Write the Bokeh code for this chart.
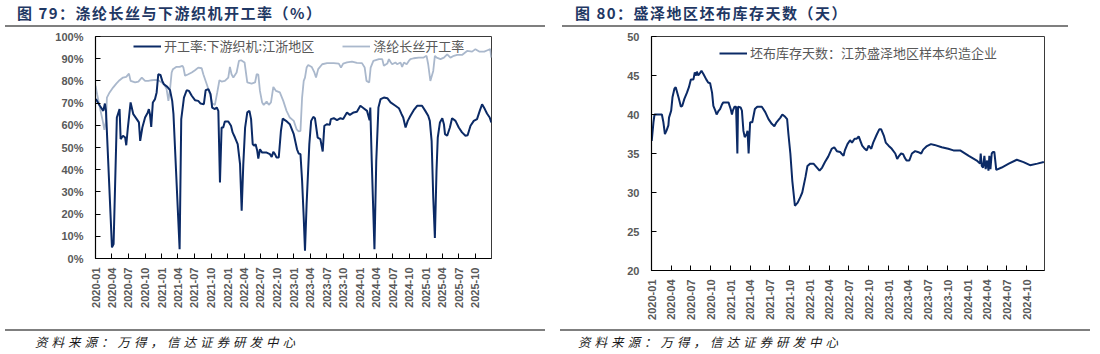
import pandas as pd
from math import pi
from bokeh.plotting import figure
from bokeh.models import (Range1d, MonthsTicker, DatetimeTickFormatter, FixedTicker,
                          PrintfTickFormatter, Legend, LegendItem, Div)
from bokeh.layouts import column, row
from bokeh.embed import file_html
from bokeh.resources import INLINE

title_left = "图 79：涤纶长丝与下游织机开工率（%）"
title_right = "图 80：盛泽地区坯布库存天数（天）"
source_note = "资料来源：万得，信达证券研发中心"
weave_name = "开工率:下游织机:江浙地区"
yarn_name = "涤纶长丝开工率"
inv_name = "坯布库存天数：江苏盛泽地区样本织造企业"

weave_dates = [
    "2020-01-03", "2020-01-25", "2020-02-13", "2020-02-22", "2020-02-28", "2020-04-01", "2020-04-10", "2020-04-28",
    "2020-05-13", "2020-05-19", "2020-06-01", "2020-06-13", "2020-06-19", "2020-06-28", "2020-07-13", "2020-07-28",
    "2020-08-16", "2020-08-28", "2020-09-04", "2020-09-16", "2020-10-01", "2020-10-16", "2020-10-22", "2020-10-28",
    "2020-11-04", "2020-11-13", "2020-11-25", "2020-12-04", "2020-12-13", "2020-12-25",
    "2021-01-04", "2021-01-13", "2021-02-01", "2021-02-16", "2021-02-28", "2021-03-07", "2021-04-10", "2021-04-19",
    "2021-05-04", "2021-05-19", "2021-06-01", "2021-06-16", "2021-07-04", "2021-07-22", "2021-08-04", "2021-08-22",
    "2021-09-01", "2021-09-16", "2021-09-28", "2021-10-07", "2021-10-22", "2021-11-01", "2021-11-10", "2021-11-19",
    "2021-11-28", "2021-12-07", "2021-12-16",
    "2022-01-04", "2022-01-19", "2022-01-28", "2022-02-10", "2022-02-25", "2022-03-10", "2022-03-19", "2022-03-28",
    "2022-04-07", "2022-04-19", "2022-05-01", "2022-05-10", "2022-05-19", "2022-05-26", "2022-06-04", "2022-06-13",
    "2022-06-19", "2022-06-28", "2022-07-10", "2022-08-04", "2022-08-22", "2022-09-01", "2022-09-10", "2022-09-19",
    "2022-09-28", "2022-10-10", "2022-10-22", "2022-11-01", "2022-11-19", "2022-12-10",
    "2023-01-01", "2023-01-19", "2023-01-28", "2023-02-07", "2023-02-16", "2023-02-25", "2023-03-04", "2023-03-13",
    "2023-03-28", "2023-04-07", "2023-04-19", "2023-04-28", "2023-05-13", "2023-05-28", "2023-06-10", "2023-06-19",
    "2023-07-04", "2023-07-19", "2023-07-25", "2023-08-10", "2023-08-28", "2023-09-16", "2023-10-01", "2023-10-22",
    "2023-11-07", "2023-11-28", "2023-12-16",
    "2024-01-04", "2024-01-22", "2024-02-10", "2024-02-24", "2024-02-28", "2024-03-07", "2024-03-22", "2024-04-01",
    "2024-04-13", "2024-04-25", "2024-05-13", "2024-06-01", "2024-06-19", "2024-07-16", "2024-08-04", "2024-08-19",
    "2024-08-28", "2024-09-10", "2024-09-22", "2024-10-07", "2024-10-25", "2024-11-13", "2024-12-10", "2024-12-28",
    "2025-01-13", "2025-01-22", "2025-02-01", "2025-02-10", "2025-02-19", "2025-02-28", "2025-03-07", "2025-03-19",
    "2025-04-01", "2025-04-10", "2025-04-16", "2025-04-28", "2025-05-13", "2025-05-25", "2025-06-13", "2025-07-01",
    "2025-07-19", "2025-08-07", "2025-08-19", "2025-09-04", "2025-09-22", "2025-10-10", "2025-10-25", "2025-11-07",
    "2025-11-22", "2025-12-04", "2025-12-19", "2025-12-28",
]
weave_rate = [
    71.8, 68.8, 66.5, 69.8, 66.5, 5.0, 6.5, 63.5, 67.3, 53.8, 55.3, 54.5, 51.0, 59.0, 70.3, 65.0,
    62.8, 61.3, 53.0, 59.0, 63.5, 65.8, 67.3, 65.0, 59.3, 70.3, 71.8, 74.8, 83.0, 82.7,
    80.0, 78.5, 77.3, 75.8, 71.0, 65.0, 4.2, 62.8, 72.5, 75.8, 75.5, 73.3, 71.3, 71.0, 69.8, 69.5,
    75.8, 76.3, 74.0, 68.0, 67.3, 68.0, 66.5, 34.2, 59.0, 59.0, 61.7,
    61.7, 59.8, 56.8, 54.5, 51.5, 42.5, 21.5, 42.5, 59.0, 65.8, 66.5, 62.8, 51.5, 50.8, 51.5, 48.5,
    45.0, 49.2, 47.7, 47.7, 47.0, 45.8, 48.0, 47.0, 45.5, 45.5, 57.5, 63.0, 62.0, 60.5,
    56.0, 49.2, 47.3, 47.0, 35.0, 18.5, 3.5, 24.5, 51.5, 62.0, 63.8, 63.2, 54.5, 53.8, 48.2, 59.8,
    60.5, 60.2, 62.8, 63.2, 62.3, 63.2, 62.8, 65.8, 64.7, 65.8, 66.1,
    68.8, 67.7, 66.5, 62.3, 68.0, 44.0, 4.2, 44.0, 68.0, 71.8, 72.5, 72.2, 70.3, 68.8, 67.7, 65.0,
    63.5, 59.0, 62.0, 64.3, 66.8, 68.8, 68.8, 66.5,
    64.3, 62.0, 53.0, 27.5, 9.2, 39.5, 54.5, 61.3, 63.2, 60.5, 56.0, 55.3, 59.0, 63.2, 62.0, 59.0,
    56.8, 55.3, 55.5, 59.8, 62.0, 62.8, 66.5, 69.5, 67.3, 65.3, 63.5, 61.3,
]

yarn_dates = [
    "2020-01-01", "2020-01-10", "2020-01-25", "2020-02-10", "2020-02-19", "2020-02-28", "2020-03-04", "2020-03-19",
    "2020-04-07", "2020-04-25", "2020-05-13", "2020-06-01", "2020-06-19", "2020-07-04", "2020-07-13", "2020-08-07",
    "2020-08-25", "2020-09-13", "2020-10-01", "2020-10-19", "2020-11-07", "2020-11-25", "2020-12-13",
    "2021-01-01", "2021-01-16", "2021-01-28", "2021-02-07", "2021-02-16", "2021-02-25", "2021-03-04", "2021-03-22",
    "2021-04-10", "2021-04-25", "2021-05-01", "2021-05-10", "2021-05-28", "2021-06-16", "2021-07-04", "2021-07-22",
    "2021-08-10", "2021-08-19", "2021-09-07", "2021-09-25", "2021-10-07", "2021-10-22", "2021-11-04", "2021-11-16",
    "2021-11-28", "2021-12-16",
    "2022-01-04", "2022-01-13", "2022-01-22", "2022-02-01", "2022-02-19", "2022-03-04", "2022-03-16", "2022-04-04",
    "2022-04-19", "2022-05-13", "2022-06-01", "2022-06-10", "2022-06-19", "2022-06-28", "2022-07-10", "2022-07-19",
    "2022-08-04", "2022-08-16", "2022-08-28", "2022-09-10", "2022-09-25", "2022-10-16", "2022-11-04", "2022-11-22",
    "2022-12-10",
    "2023-01-01", "2023-01-16", "2023-01-28", "2023-02-07", "2023-02-16", "2023-02-25", "2023-03-04", "2023-03-13",
    "2023-03-22", "2023-04-10", "2023-04-25", "2023-05-04", "2023-05-16", "2023-06-07", "2023-07-04", "2023-08-10",
    "2023-09-07", "2023-09-19", "2023-10-01", "2023-10-22", "2023-11-19", "2023-12-16",
    "2024-01-13", "2024-01-28", "2024-02-07", "2024-02-22", "2024-03-01", "2024-03-16", "2024-04-16", "2024-05-04",
    "2024-05-13", "2024-06-01", "2024-06-10", "2024-06-19", "2024-06-28", "2024-07-16", "2024-07-25", "2024-08-13",
    "2024-08-22", "2024-09-01", "2024-09-16", "2024-09-28", "2024-10-07", "2024-10-25", "2024-11-22", "2024-12-19",
    "2025-01-04", "2025-01-13", "2025-01-25", "2025-02-10", "2025-02-19", "2025-03-01", "2025-03-22", "2025-04-10",
    "2025-04-28", "2025-05-16", "2025-06-04", "2025-06-22", "2025-07-19", "2025-08-16", "2025-09-13", "2025-10-01",
    "2025-10-22", "2025-11-19", "2025-12-07", "2025-12-22", "2025-12-28",
]
yarn_rate = [
    77.8, 74.0, 68.0, 62.0, 58.0, 62.0, 72.5, 74.8, 77.0, 78.8, 80.3, 81.5, 81.8, 83.3, 80.0, 79.3,
    79.7, 81.5, 80.0, 80.0, 80.3, 80.5, 80.3,
    79.3, 78.2, 76.3, 71.0, 76.3, 83.8, 85.3, 86.3, 86.3, 86.8, 86.0, 82.3, 83.0, 83.8, 84.8, 86.0,
    85.7, 83.0, 78.5, 74.0, 69.8, 69.2, 74.8, 80.3, 79.7, 80.0,
    81.5, 86.3, 83.0, 81.5, 83.8, 89.0, 89.3, 88.3, 79.3, 78.8, 79.3, 83.0, 82.8, 75.5, 70.3, 69.2,
    70.7, 69.2, 70.3, 77.3, 75.5, 74.8, 71.0, 66.5, 63.5,
    62.0, 58.3, 57.2, 57.5, 72.5, 80.0, 81.5, 86.0, 87.2, 86.3, 83.8, 81.5, 85.3, 87.5, 88.0, 88.0,
    87.8, 86.0, 87.8, 88.3, 88.7, 88.1,
    88.0, 86.0, 80.0, 79.3, 86.0, 89.0, 89.8, 89.8, 86.8, 87.8, 89.8, 88.5, 87.5, 88.3, 87.5, 88.3,
    86.3, 88.3, 87.5, 89.0, 89.8, 90.2, 90.5, 90.5,
    91.3, 87.5, 80.0, 84.5, 91.3, 90.5, 89.8, 90.5, 92.0, 90.5, 91.3, 91.7, 91.7, 93.5, 93.2, 94.3,
    93.2, 93.2, 93.8, 94.3, 90.5,
]

inv_dates = [
    "2020-01-02", "2020-01-10", "2020-01-15", "2020-02-18", "2020-02-25", "2020-03-03", "2020-03-10", "2020-03-19",
    "2020-03-22", "2020-04-01", "2020-04-07", "2020-04-16", "2020-04-22", "2020-05-01", "2020-05-07", "2020-05-16",
    "2020-05-22", "2020-06-01", "2020-06-13", "2020-06-22", "2020-07-01", "2020-07-13", "2020-07-19", "2020-07-25",
    "2020-07-29", "2020-08-04", "2020-08-12", "2020-08-19", "2020-08-28", "2020-09-10", "2020-09-19", "2020-09-28",
    "2020-10-07", "2020-10-13", "2020-10-22", "2020-10-28", "2020-11-07", "2020-11-13", "2020-11-22", "2020-11-28",
    "2020-12-22",
    "2021-01-01", "2021-01-07", "2021-01-11", "2021-01-19", "2021-01-26", "2021-02-01", "2021-02-04", "2021-02-16",
    "2021-02-22", "2021-03-01", "2021-03-07", "2021-03-16", "2021-03-20", "2021-03-25", "2021-04-01", "2021-04-11",
    "2021-04-23", "2021-05-04", "2021-05-25", "2021-06-10", "2021-06-25", "2021-07-10", "2021-07-22", "2021-08-01",
    "2021-08-19", "2021-08-28", "2021-09-10", "2021-09-19", "2021-09-25", "2021-10-04", "2021-10-13", "2021-10-25",
    "2021-11-07", "2021-11-19", "2021-11-28", "2021-12-13", "2021-12-22",
    "2022-01-04", "2022-01-19", "2022-02-04", "2022-02-16", "2022-02-28", "2022-03-13", "2022-03-28", "2022-04-13",
    "2022-04-25", "2022-05-07", "2022-05-22", "2022-05-28", "2022-06-07", "2022-06-13", "2022-06-25", "2022-07-07",
    "2022-07-16", "2022-07-28", "2022-08-07", "2022-08-16", "2022-09-01", "2022-09-13", "2022-09-22", "2022-10-01",
    "2022-10-13", "2022-10-22", "2022-11-07", "2022-11-19", "2022-11-28", "2022-12-10", "2022-12-19",
    "2023-01-01", "2023-01-16", "2023-02-01", "2023-02-10", "2023-02-19", "2023-02-28", "2023-03-10", "2023-03-16",
    "2023-03-25", "2023-04-07", "2023-04-19", "2023-05-04", "2023-05-16", "2023-06-01", "2023-06-10", "2023-06-25",
    "2023-07-16", "2023-08-01", "2023-09-04", "2023-10-04", "2023-10-28", "2023-11-28",
    "2024-01-07", "2024-02-13", "2024-02-28", "2024-03-02", "2024-03-07", "2024-03-13", "2024-03-19", "2024-03-25",
    "2024-04-01", "2024-04-07", "2024-04-11", "2024-04-16", "2024-04-22", "2024-04-28", "2024-05-04", "2024-05-13",
    "2024-06-07", "2024-07-10", "2024-08-16", "2024-09-16", "2024-10-16", "2024-11-19", "2024-12-19",
]
inv_days = [
    36.6, 39.0, 40.0, 40.0, 39.0, 37.5, 37.9, 38.6, 39.6, 40.5, 42.2, 43.3, 43.5, 42.6, 42.0, 41.0,
    41.1, 42.0, 42.8, 43.5, 44.5, 44.5, 45.4, 45.0, 45.5, 45.0, 45.3, 45.6, 45.2, 44.5, 44.1, 44.0,
    42.8, 41.1, 40.5, 40.0, 40.5, 40.7, 41.3, 41.55, 41.55,
    40.7, 40.0, 40.5, 41.0, 41.0, 35.0, 41.0, 40.9, 40.5, 37.9, 37.1, 37.5, 37.9, 35.0, 39.0, 39.0,
    40.7, 41.0, 41.0, 40.3, 39.4, 38.8, 38.5, 39.0, 39.6, 40.0, 39.7, 39.4, 37.5, 35.0, 31.5, 28.3,
    28.7, 29.4, 30.0, 32.0, 33.4,
    33.7, 33.7, 33.2, 32.8, 33.2, 33.9, 34.6, 35.6, 35.8, 35.3, 35.2, 35.0, 34.7, 35.4, 36.2, 36.7,
    36.4, 36.9, 36.9, 37.2, 36.0, 35.6, 35.4, 36.0, 35.6, 36.4, 37.4, 38.1, 38.1, 37.3, 36.4,
    36.0, 35.6, 35.0, 34.3, 34.7, 35.0, 34.9, 34.5, 34.1, 34.1, 35.0, 35.3, 35.2, 35.0, 35.5, 35.9,
    36.2, 36.1, 35.8, 35.6, 35.4, 35.4,
    34.7, 34.1, 33.7, 35.0, 33.4, 33.2, 34.7, 33.0, 34.1, 32.8, 34.7, 33.0, 35.0, 35.2, 35.2, 32.9,
    33.2, 33.7, 34.2, 33.9, 33.5, 33.7, 33.9,
]

pct_ticks = [0, 10, 20, 30, 40, 50, 60, 70, 80, 90, 100]
day_ticks = [20, 25, 30, 35, 40, 45, 50]

DARK = "#0b2a66"
LIGHT = "#aab8cc"
TICK_COLOR = "#595959"
AX_FONT = "Liberation Sans"
CJK = "Noto Sans CJK SC"


def make_fig(width, height, x_end, y_lo, y_hi, bl, br, bt, bb):
    p = figure(width=width, height=height, x_axis_type="datetime", output_backend="svg",
               toolbar_location=None, title=None,
               x_range=Range1d(pd.Timestamp("2020-01-01"), pd.Timestamp(x_end)),
               y_range=Range1d(y_lo, y_hi),
               min_border_left=bl, min_border_right=br, min_border_top=bt, min_border_bottom=bb)
    p.xgrid.visible = False
    p.ygrid.visible = False
    p.outline_line_color = "#3a3a3a"
    p.outline_line_width = 1
    p.border_fill_color = "white"
    p.background_fill_color = "white"
    xa = p.xaxis[0]
    xa.ticker = MonthsTicker(months=[0, 3, 6, 9])
    xa.formatter = DatetimeTickFormatter(months="%Y-%m", days="%Y-%m", years="%Y-%m")
    xa.major_label_orientation = pi / 2
    xa.minor_tick_line_color = None
    xa.major_tick_in = 5
    xa.major_tick_out = 0
    xa.major_label_standoff = 9
    ya = p.yaxis[0]
    ya.minor_tick_line_color = None
    ya.major_tick_in = 5
    ya.major_tick_out = 0
    ya.major_label_standoff = 12
    for ax in (xa, ya):
        ax.axis_line_color = "black"
        ax.axis_line_width = 1.2
        ax.major_tick_line_color = "black"
        ax.major_label_text_font = AX_FONT
        ax.major_label_text_font_style = "bold"
        ax.major_label_text_font_size = "11px"
        ax.major_label_text_color = TICK_COLOR
    return p


def legend_for(items, loc):
    return Legend(items=items, orientation="horizontal", location=loc, spacing=28,
                  glyph_width=28, glyph_height=12, label_height=12, label_standoff=3,
                  padding=0, margin=0, border_line_color=None, background_fill_alpha=0,
                  label_text_font=CJK, label_text_font_size="13px", label_text_color=TICK_COLOR)


# left chart
p1 = make_fig(550, 300, "2025-12-29", 0, 100, 95, 59, 8, 70)
p1.yaxis[0].ticker = FixedTicker(ticks=pct_ticks)
p1.yaxis[0].formatter = PrintfTickFormatter(format="%d%%")
r_yarn = p1.line(pd.to_datetime(yarn_dates), yarn_rate, line_color=LIGHT, line_width=1.8)
r_weave = p1.line(pd.to_datetime(weave_dates), weave_rate, line_color=DARK, line_width=2)
p1.add_layout(legend_for([LegendItem(label=weave_name, renderers=[r_weave]),
                          LegendItem(label=yarn_name, renderers=[r_yarn])], (38, 203)))

# right chart
p2 = make_fig(550, 300, "2024-12-22", 20, 50, 101, 56, 8, 58)
p2.yaxis[0].ticker = FixedTicker(ticks=day_ticks)
r_inv = p2.line(pd.to_datetime(inv_dates), inv_days, line_color=DARK, line_width=2)
p2.add_layout(legend_for([LegendItem(label=inv_name, renderers=[r_inv])], (68, 208)))


def title_div(text, pad_left, line_left, line_width):
    html = ('<div style="height:25px;line-height:26px;padding-left:%dpx;font-family:\'%s\';'
            'font-weight:bold;font-size:15px;color:#1f3864;letter-spacing:1.5px;white-space:nowrap;">%s</div>'
            '<div style="margin-left:%dpx;width:%dpx;height:2px;background:#7f7f7f;"></div>'
            % (pad_left, CJK, text, line_left, line_width))
    return Div(text=html, width=550, height=28, margin=0)


def source_div(text, pad_left, line_left, line_width):
    html = ('<div style="margin-top:1px;margin-left:%dpx;width:%dpx;height:2px;background:#7f7f7f;"></div>'
            '<div style="height:22px;line-height:22px;padding-left:%dpx;font-family:\'%s\';font-style:italic;'
            'font-size:12.5px;color:#1a1a1a;letter-spacing:4px;white-space:nowrap;">%s</div>'
            % (line_left, line_width, pad_left, CJK, text))
    return Div(text=html, width=550, height=26, margin=0)


layout = row(
    column(title_div(title_left, 17, 5, 540), p1, source_div(source_note, 35, 5, 540), spacing=0),
    column(title_div(title_right, 25, 12, 506), p2, source_div(source_note, 28, 10, 530), spacing=0),
    spacing=0,
)

open("out.html", "w").write(file_html(layout, INLINE))
